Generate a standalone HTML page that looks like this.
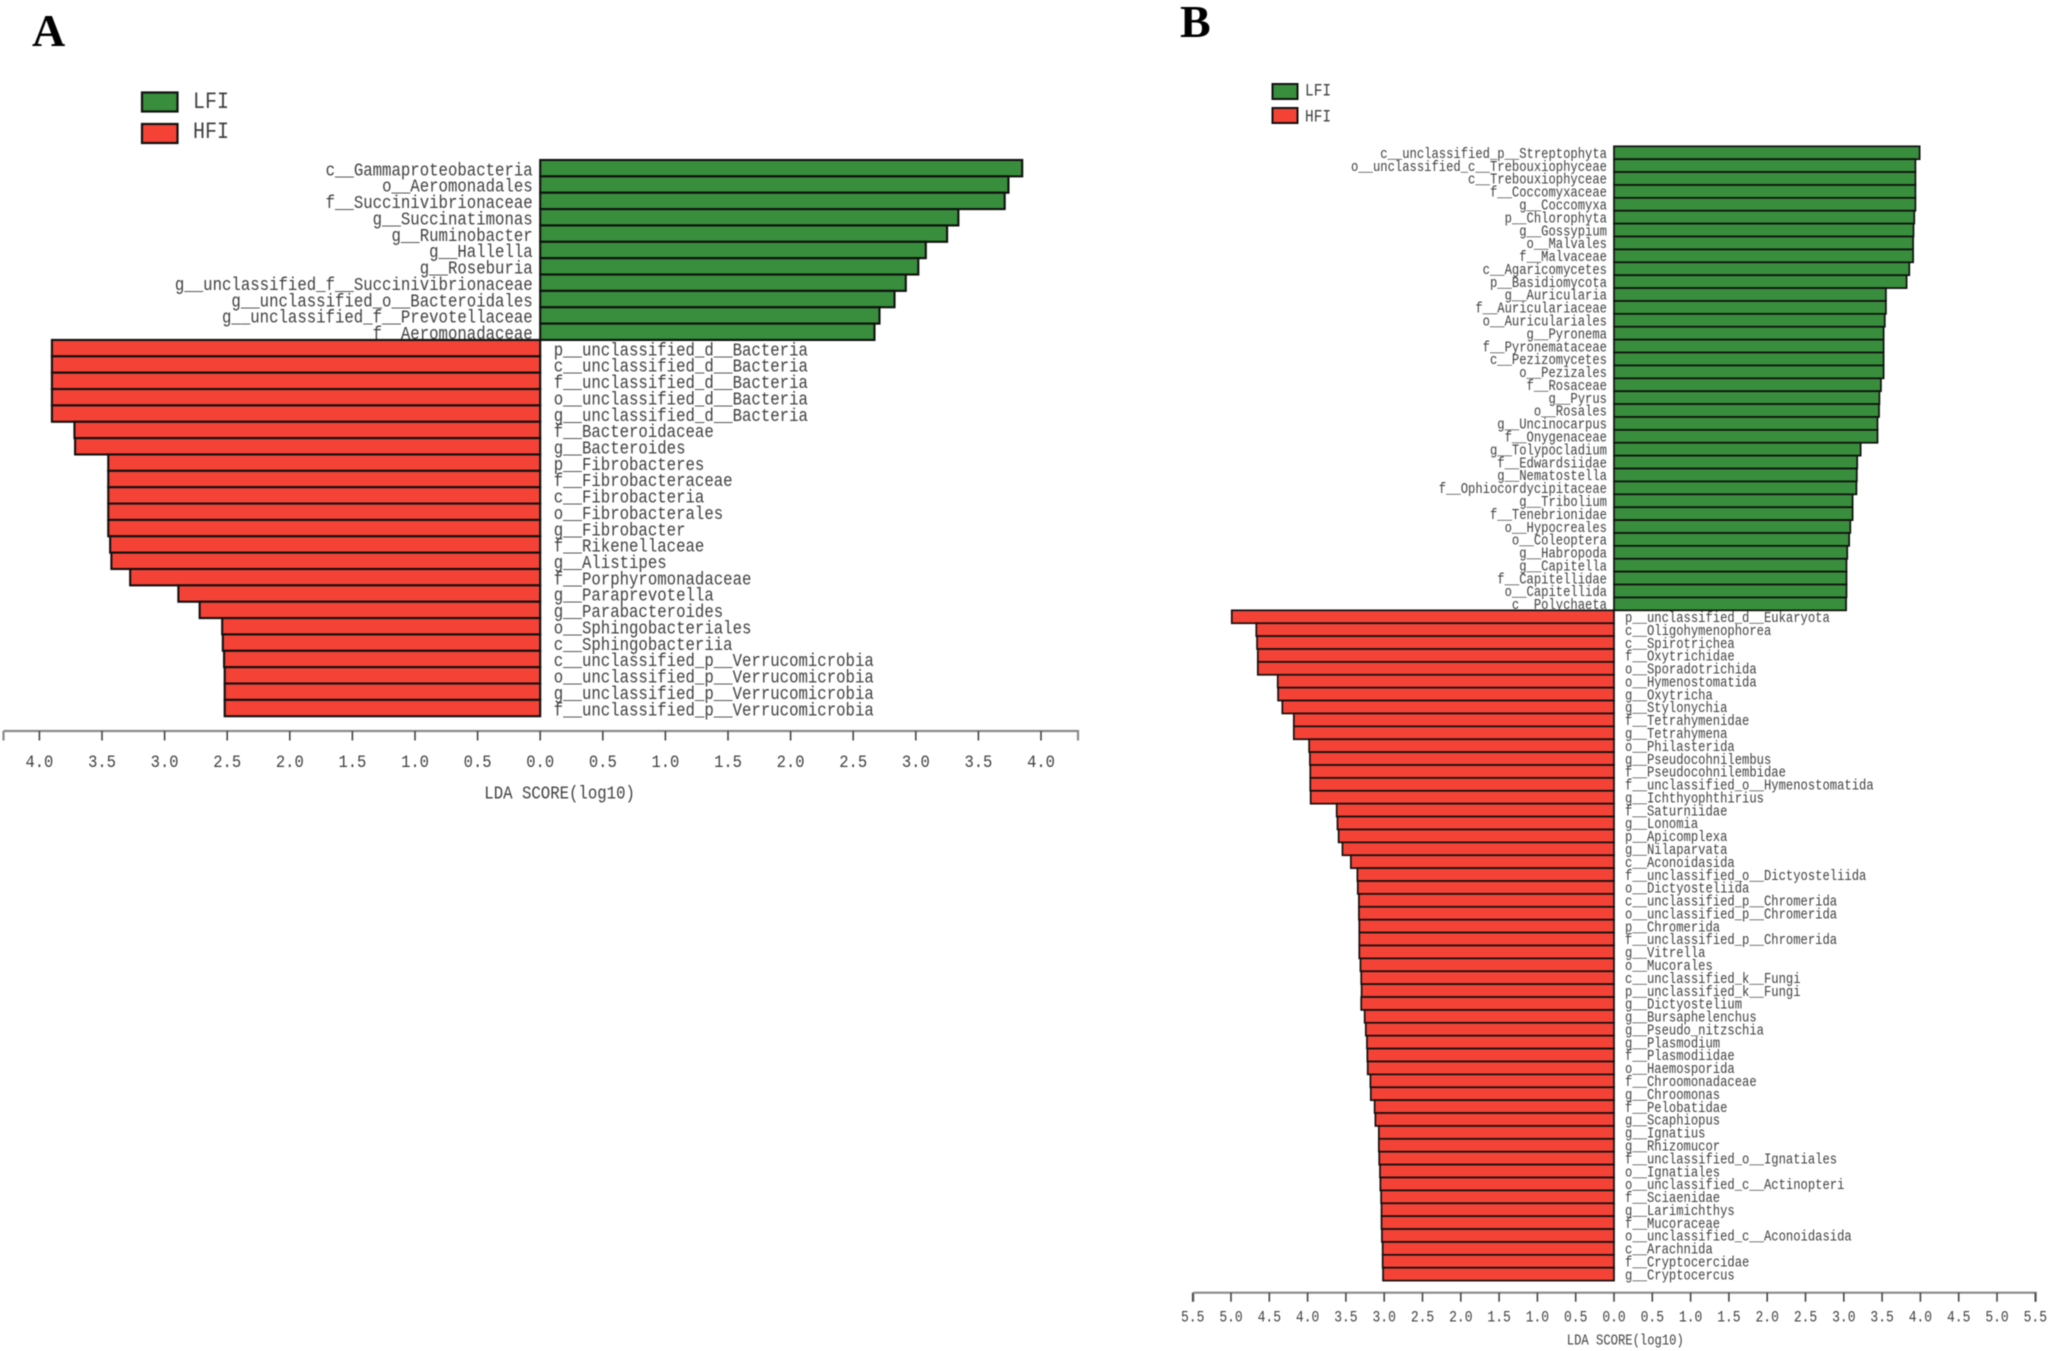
<!DOCTYPE html>
<html lang="en">
<head>
<meta charset="utf-8">
<title>LDA score charts</title>
<style>
html,body{margin:0;padding:0;background:#fff;}
body{width:2050px;height:1351px;overflow:hidden;}
svg{display:block;filter:blur(0.45px);}
text{font-family:"Liberation Mono","DejaVu Sans Mono",monospace;fill:#404040;}
.panel{font-family:"Liberation Serif",serif;font-weight:bold;font-size:46px;fill:#000;}
</style>
</head>
<body>
<svg id="figure" width="2050" height="1351" viewBox="0 0 2050 1351" xmlns="http://www.w3.org/2000/svg">
  <rect x="0" y="0" width="2050" height="1351" fill="#fff"/>
  <text class="panel" x="32" y="46">A</text>
  <text class="panel" x="1180" y="37">B</text>
  <g>
    <rect x="142" y="92.5" width="35.5" height="19" fill="#388e3c" stroke="#111" stroke-width="2.2"/>
    <rect x="142" y="124" width="35.5" height="19" fill="#f44336" stroke="#111" stroke-width="2.2"/>
    <text transform="translate(193,108) scale(1,1.15)" font-size="20">LFI</text>
    <text transform="translate(193,138) scale(1,1.15)" font-size="20">HFI</text>
  </g>
  <g>
    <rect x="1272.5" y="84" width="25" height="15" fill="#388e3c" stroke="#111" stroke-width="2"/>
    <rect x="1272.5" y="108" width="25" height="15" fill="#f44336" stroke="#111" stroke-width="2"/>
    <text transform="translate(1305,95.5) scale(1,1.18)" font-size="14.5">LFI</text>
    <text transform="translate(1305,121.5) scale(1,1.18)" font-size="14.5">HFI</text>
  </g>
  <g id="chart-a"></g>
  <g id="chart-b"></g>
</svg>
<script>
const lfiLabelsA = ["c__Gammaproteobacteria","o__Aeromonadales","f__Succinivibrionaceae","g__Succinatimonas","g__Ruminobacter","g__Hallella","g__Roseburia","g__unclassified_f__Succinivibrionaceae","g__unclassified_o__Bacteroidales","g__unclassified_f__Prevotellaceae","f__Aeromonadaceae"];
const lfiScoresA = [3.85,3.74,3.71,3.34,3.25,3.08,3.02,2.92,2.83,2.71,2.67];
const hfiLabelsA = ["p__unclassified_d__Bacteria","c__unclassified_d__Bacteria","f__unclassified_d__Bacteria","o__unclassified_d__Bacteria","g__unclassified_d__Bacteria","f__Bacteroidaceae","g__Bacteroides","p__Fibrobacteres","f__Fibrobacteraceae","c__Fibrobacteria","o__Fibrobacterales","g__Fibrobacter","f__Rikenellaceae","g__Alistipes","f__Porphyromonadaceae","g__Paraprevotella","g__Parabacteroides","o__Sphingobacteriales","c__Sphingobacteriia","c__unclassified_p__Verrucomicrobia","o__unclassified_p__Verrucomicrobia","g__unclassified_p__Verrucomicrobia","f__unclassified_p__Verrucomicrobia"];
const hfiScoresA = [3.9,3.9,3.9,3.9,3.9,3.72,3.715,3.45,3.45,3.45,3.45,3.45,3.435,3.425,3.275,2.89,2.72,2.54,2.535,2.525,2.52,2.52,2.52];
const tickValuesA = [-4.0,-3.5,-3.0,-2.5,-2.0,-1.5,-1.0,-0.5,0.0,0.5,1.0,1.5,2.0,2.5,3.0,3.5,4.0];

const lfiLabelsB = ["c__unclassified_p__Streptophyta","o__unclassified_c__Trebouxiophyceae","c__Trebouxiophyceae","f__Coccomyxaceae","g__Coccomyxa","p__Chlorophyta","g__Gossypium","o__Malvales","f__Malvaceae","c__Agaricomycetes","p__Basidiomycota","g__Auricularia","f__Auriculariaceae","o__Auriculariales","g__Pyronema","f__Pyronemataceae","c__Pezizomycetes","o__Pezizales","f__Rosaceae","g__Pyrus","o__Rosales","g__Uncinocarpus","f__Onygenaceae","g__Tolypocladium","f__Edwardsiidae","g__Nematostella","f__Ophiocordycipitaceae","g__Tribolium","f__Tenebrionidae","o__Hypocreales","o__Coleoptera","g__Habropoda","g__Capitella","f__Capitellidae","o__Capitellida","c__Polychaeta"];
const lfiScoresB = [3.99,3.935,3.935,3.935,3.935,3.92,3.91,3.905,3.905,3.855,3.82,3.55,3.55,3.535,3.52,3.52,3.52,3.52,3.485,3.465,3.46,3.44,3.44,3.22,3.175,3.17,3.165,3.115,3.115,3.085,3.07,3.045,3.035,3.035,3.035,3.03];
const hfiLabelsB = ["p__unclassified_d__Eukaryota","c__Oligohymenophorea","c__Spirotrichea","f__Oxytrichidae","o__Sporadotrichida","o__Hymenostomatida","g__Oxytricha","g__Stylonychia","f__Tetrahymenidae","g__Tetrahymena","o__Philasterida","g__Pseudocohnilembus","f__Pseudocohnilembidae","f__unclassified_o__Hymenostomatida","g__Ichthyophthirius","f__Saturniidae","g__Lonomia","p__Apicomplexa","g__Nilaparvata","c__Aconoidasida","f__unclassified_o__Dictyosteliida","o__Dictyosteliida","c__unclassified_p__Chromerida","o__unclassified_p__Chromerida","p__Chromerida","f__unclassified_p__Chromerida","g__Vitrella","o__Mucorales","c__unclassified_k__Fungi","p__unclassified_k__Fungi","g__Dictyostelium","g__Bursaphelenchus","g__Pseudo_nitzschia","g__Plasmodium","f__Plasmodiidae","o__Haemosporida","f__Chroomonadaceae","g__Chroomonas","f__Pelobatidae","g__Scaphiopus","g__Ignatius","g__Rhizomucor","f__unclassified_o__Ignatiales","o__Ignatiales","o__unclassified_c__Actinopteri","f__Sciaenidae","g__Larimichthys","f__Mucoraceae","o__unclassified_c__Aconoidasida","c__Arachnida","f__Cryptocercidae","g__Cryptocercus"];
const hfiScoresB = [4.99,4.67,4.66,4.65,4.65,4.39,4.385,4.33,4.18,4.18,3.98,3.97,3.965,3.965,3.96,3.62,3.61,3.595,3.545,3.435,3.35,3.345,3.33,3.33,3.325,3.325,3.325,3.31,3.3,3.295,3.3,3.255,3.24,3.225,3.22,3.215,3.18,3.175,3.125,3.115,3.07,3.07,3.065,3.055,3.05,3.04,3.035,3.035,3.03,3.02,3.02,3.015];
const tickValuesB = [-5.5,-5.0,-4.5,-4.0,-3.5,-3.0,-2.5,-2.0,-1.5,-1.0,-0.5,0.0,0.5,1.0,1.5,2.0,2.5,3.0,3.5,4.0,4.5,5.0,5.5];

const SVG_NS = 'http://www.w3.org/2000/svg';

function addText(parent, content, x, y, size, anchor, stretch) {
  const t = document.createElementNS(SVG_NS, 'text');
  t.textContent = content;
  t.setAttribute('transform', 'translate(' + x + ',' + y + ') scale(1,' + stretch + ')');
  t.setAttribute('font-size', size);
  t.setAttribute('text-anchor', anchor);
  parent.appendChild(t);
  return t;
}

function drawChart(parent, lfiLabels, lfiScores, hfiLabels, hfiScores, ticks, opts) {
  const xScale = function (v) { return opts.zeroX + v * opts.unit; };
  const rowY = function (i) { return opts.topY + i * opts.rowH; };

  lfiScores.forEach(function (score, i) {
    const bar = document.createElementNS(SVG_NS, 'rect');
    
    
    bar.setAttribute('x', xScale(0));
    bar.setAttribute('y', rowY(i));
    bar.setAttribute('width', xScale(score) - xScale(0));
    bar.setAttribute('height', opts.rowH);
    bar.setAttribute('fill', '#388e3c');
    bar.setAttribute('stroke', '#101010');
    bar.setAttribute('stroke-width', opts.barStroke);
    parent.appendChild(bar);
    const label = addText(parent, lfiLabels[i], xScale(0) - opts.labelGapLeft, rowY(i) + opts.rowH / 2 + opts.labelDy, opts.labelSize, 'end', opts.stretch);
    
    
  });

  const start = lfiScores.length;
  hfiScores.forEach(function (score, i) {
    const bar = document.createElementNS(SVG_NS, 'rect');
    
    
    bar.setAttribute('x', xScale(-score));
    bar.setAttribute('y', rowY(start + i));
    bar.setAttribute('width', xScale(0) - xScale(-score));
    bar.setAttribute('height', opts.rowH);
    bar.setAttribute('fill', '#f44336');
    bar.setAttribute('stroke', '#101010');
    bar.setAttribute('stroke-width', opts.barStroke);
    parent.appendChild(bar);
    const label = addText(parent, hfiLabels[i], xScale(0) + opts.labelGapRight, rowY(start + i) + opts.rowH / 2 + opts.labelDy, opts.labelSize, 'start', opts.stretch);
    
    
  });

  const axis = document.createElementNS(SVG_NS, 'path');
  let d = 'M' + opts.axisStart + ' ' + opts.axisY + 'V' + (opts.axisY + opts.tickLen) + 'M' + opts.axisStart + ' ' + opts.axisY + 'H' + opts.axisEnd + 'V' + (opts.axisY + opts.tickLen);
  
  
  axis.setAttribute('d', d);
  axis.setAttribute('fill', 'none');
  axis.setAttribute('stroke', '#8a8a8a');
  axis.setAttribute('stroke-width', '2.2');
  parent.appendChild(axis);

  ticks.forEach(function (v) {
    const tick = document.createElementNS(SVG_NS, 'line');
    
    
    tick.setAttribute('x1', xScale(v));
    tick.setAttribute('x2', xScale(v));
    tick.setAttribute('y1', opts.axisY);
    tick.setAttribute('y2', opts.axisY + opts.tickLen);
    tick.setAttribute('stroke', '#444');
    tick.setAttribute('stroke-width', '1.6');
    parent.appendChild(tick);
    const label = addText(parent, Math.abs(v).toFixed(1), xScale(v), opts.tickLabelY, opts.tickSize, 'middle', opts.stretch);
    
    
  });

  const title = addText(parent, 'LDA SCORE(log10)', opts.titleX, opts.titleY, opts.labelSize, 'middle', opts.stretch);
  
  
}

drawChart(document.getElementById('chart-a'), lfiLabelsA, lfiScoresA, hfiLabelsA, hfiScoresA, tickValuesA, {
  zeroX: 540.2, unit: 125.2, topY: 160, rowH: 16.36, barStroke: 2.1,
  labelSize: 15.7, labelGapLeft: 7.5, labelGapRight: 13.5, labelDy: 7.2, stretch: 1.15,
  axisStart: 3.5, axisEnd: 1078, axisY: 731, tickLen: 9.5,
  tickLabelY: 767, tickSize: 15.5, titleX: 559.6, titleY: 798.5
});
drawChart(document.getElementById('chart-b'), lfiLabelsB, lfiScoresB, hfiLabelsB, hfiScoresB, tickValuesB, {
  zeroX: 1614, unit: 76.6, topY: 146.3, rowH: 12.89, barStroke: 1.7,
  labelSize: 12.2, labelGapLeft: 7, labelGapRight: 11, labelDy: 5.2, stretch: 1.18,
  axisStart: 1193.3, axisEnd: 2035.7, axisY: 1292.7, tickLen: 9,
  tickLabelY: 1321.5, tickSize: 13, titleX: 1625.3, titleY: 1344.5
});
</script>
</body>
</html>
